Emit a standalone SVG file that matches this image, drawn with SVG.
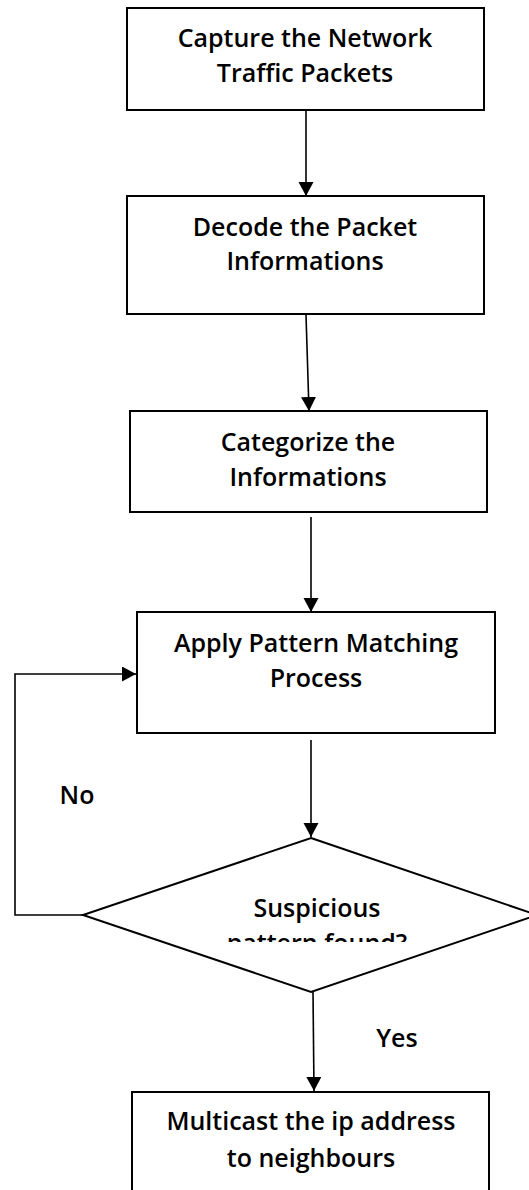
<svg xmlns="http://www.w3.org/2000/svg" width="529" height="1190" viewBox="0 0 529 1190">
  <style>
    .box { fill: #ffffff; stroke: #000000; stroke-width: 2; }
    .lbl { font-family: "Open Sans", "Noto Sans", "Liberation Sans", sans-serif; font-weight: 600; font-size: 25px; fill: #000000; text-anchor: middle; }
    .edge { fill: none; stroke: #000000; stroke-width: 1.6; }
  </style>
  <defs>
    <marker id="arrow" markerUnits="userSpaceOnUse" markerWidth="16" markerHeight="16" refX="14" refY="7.5" orient="auto">
      <path d="M0,0 L14,7.5 L0,15 Z" fill="#000000"/>
    </marker>
    <clipPath id="diamondTextClip">
      <rect x="150" y="880" width="330" height="62"/>
    </clipPath>
  </defs>

  <rect x="0" y="0" width="529" height="1190" fill="#ffffff"/>

  <!-- connectors -->
  <g id="connectors">
    <line class="edge" x1="306" y1="111" x2="306" y2="196" marker-end="url(#arrow)"/>
    <line class="edge" x1="306" y1="315" x2="309" y2="411" marker-end="url(#arrow)"/>
    <line class="edge" x1="311" y1="517" x2="311" y2="612" marker-end="url(#arrow)"/>
    <line class="edge" x1="311" y1="740" x2="311" y2="837" marker-end="url(#arrow)"/>
    <line class="edge" x1="313" y1="992" x2="314" y2="1091" marker-end="url(#arrow)"/>
    <polyline class="edge" points="83,915 15,915 15,674 136,674" marker-end="url(#arrow)"/>
    <text class="lbl" x="77" y="804">No</text>
    <text class="lbl" x="397" y="1047">Yes</text>
  </g>

  <g id="capture">
    <rect class="box" x="127" y="8" width="357" height="102"/>
    <text class="lbl" x="305" y="47">Capture the Network</text>
    <text class="lbl" x="305" y="82">Traffic Packets</text>
  </g>

  <g id="decode">
    <rect class="box" x="127" y="196" width="357" height="118"/>
    <text class="lbl" x="305" y="236">Decode the Packet</text>
    <text class="lbl" x="305" y="270">Informations</text>
  </g>

  <g id="categorize">
    <rect class="box" x="130" y="411" width="357" height="101"/>
    <text class="lbl" x="308" y="451">Categorize the</text>
    <text class="lbl" x="308" y="486">Informations</text>
  </g>

  <g id="pattern">
    <rect class="box" x="137" y="612" width="358" height="121"/>
    <text class="lbl" x="316" y="652">Apply Pattern Matching</text>
    <text class="lbl" x="316" y="687">Process</text>
  </g>

  <g id="decision">
    <polygon class="box" points="311,838 537,915 311,992 83,915"/>
    <g clip-path="url(#diamondTextClip)">
      <text class="lbl" x="317" y="917">Suspicious</text>
      <text class="lbl" x="317" y="952">pattern found?</text>
    </g>
  </g>

  <g id="multicast">
    <rect class="box" x="132" y="1092" width="357" height="110"/>
    <text class="lbl" x="311" y="1130">Multicast the ip address</text>
    <text class="lbl" x="311" y="1167">to neighbours</text>
  </g>
</svg>
